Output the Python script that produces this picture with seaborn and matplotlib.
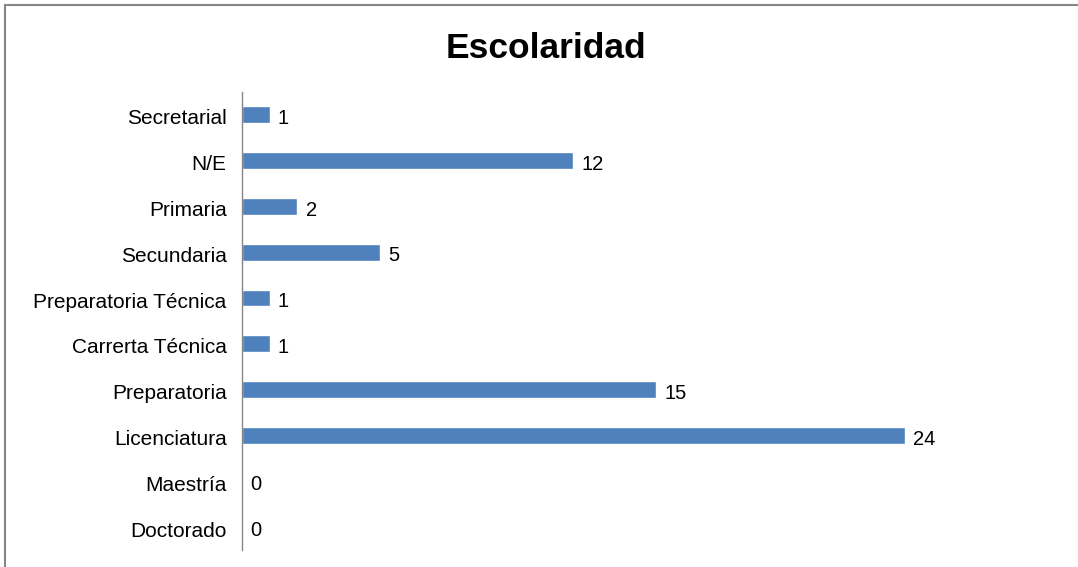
import matplotlib
matplotlib.use("Agg")
import matplotlib.pyplot as plt
import matplotlib.transforms as mtransforms
import seaborn as sns
import pandas as pd
from matplotlib.lines import Line2D

# ---------------------------------------------------------------------------
# Data (top to bottom, as shown)
# ---------------------------------------------------------------------------

categories = ["Secretarial", "N/E", "Primaria", "Secundaria",
              "Preparatoria Técnica", "Carrerta Técnica", "Preparatoria",
              "Licenciatura", "Maestría", "Doctorado"]
counts = [1, 12, 2, 5, 1, 1, 15, 24, 0, 0]

BAR_COLOR = "#4F81BD"
AXIS_GRAY = "#868686"

sns.set_theme(style="white")
plt.rcParams["font.family"] = ["Liberation Sans", "DejaVu Sans"]

df = pd.DataFrame({"Escolaridad": categories, "Cantidad": counts})

fig = plt.figure(figsize=(10.78, 5.67), dpi=100)
ax = fig.add_axes([0.2245, 0.030, 0.7171, 0.808])

sns.barplot(data=df, y="Escolaridad", x="Cantidad", orient="h",
            color=BAR_COLOR, width=0.37, saturation=1, ax=ax)

# data labels, sitting just right of each bar and slightly below its centre
for i, val in enumerate(counts):
    ax.text(val + 0.3, i + 0.08, f"{val}", ha="left", va="center",
            fontsize=14.5, color="black")

ax.set_xlim(0, 28)
ax.set_ylim(len(categories) - 0.5, -0.5)
ax.set_xlabel("")
ax.set_ylabel("")
ax.set_xticks([])
ax.tick_params(axis="y", length=0, pad=11, labelsize=15, labelcolor="black")

# nudge category labels down a touch, like the reference
shift = mtransforms.ScaledTranslation(0, -2 / 100, fig.dpi_scale_trans)
for lbl in ax.get_yticklabels():
    lbl.set_transform(lbl.get_transform() + shift)

for side in ["top", "right", "bottom"]:
    ax.spines[side].set_visible(False)
ax.spines["left"].set_color(AXIS_GRAY)
ax.spines["left"].set_linewidth(1)

fig.text(0.506, 0.915, "Escolaridad", ha="center", va="center",
         fontsize=25.5, fontweight="bold", color="black")

# chart frame (only top and left edges fall inside the picture)
fig.add_artist(Line2D([5 / 1078, 1.0], [1 - 5 / 567, 1 - 5 / 567],
                      color=AXIS_GRAY, linewidth=1.5, transform=fig.transFigure))
fig.add_artist(Line2D([5 / 1078, 5 / 1078], [0.0, 1 - 5 / 567],
                      color=AXIS_GRAY, linewidth=1.5, transform=fig.transFigure))

fig.savefig("out.png", dpi=100, facecolor="white")
plt.close(fig)
